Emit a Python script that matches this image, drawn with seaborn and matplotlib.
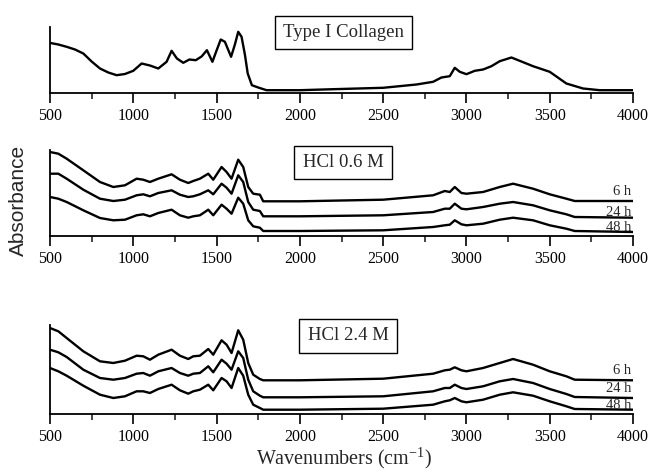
import matplotlib
matplotlib.use("Agg")
import matplotlib.pyplot as plt
from matplotlib.ticker import MultipleLocator
import seaborn as sns
import pandas as pd

# --- data (heights in arbitrary absorbance units) ---
wn_collagen = [500, 550, 600, 650, 700, 750, 800, 850, 900, 950, 1000, 1050, 1100, 1150,
               1200, 1230, 1262, 1300, 1337, 1375, 1410, 1442, 1475, 1500, 1525, 1550,
               1587, 1610, 1630, 1650, 1670, 1687, 1712, 1750, 1800, 1900, 2000, 2200,
               2500, 2700, 2800, 2850, 2900, 2930, 2960, 3000, 3050, 3100, 3150, 3200,
               3270, 3300, 3400, 3500, 3600, 3700, 3800, 4000]
abs_collagen = [49.6, 48, 45.7, 43, 39, 31, 24, 20, 17.3, 18.5, 21.7, 29, 27, 24,
                30.7, 41.7, 34, 29.7, 33, 32.3, 36, 42.3, 30.7, 42, 53, 50.7,
                35.7, 48, 60.7, 55.7, 38, 19, 7.3, 5, 2.3, 2.3, 2.3, 3.3,
                4.7, 8, 10.7, 15, 16.3, 24.7, 20.7, 18.3, 21.7, 23, 26.3, 31.3,
                35, 33, 26.3, 20.7, 9, 4, 2.3, 2.3]

wn_hcl = [500, 550, 600, 700, 800, 880, 950, 1020, 1060, 1100, 1150, 1230, 1280, 1330,
          1360, 1400, 1450, 1480, 1530, 1560, 1590, 1630, 1660, 1690, 1720, 1760, 1780,
          2000, 2500, 2800, 2870, 2900, 2930, 2970, 3000, 3100, 3200, 3280, 3400, 3500,
          3600, 3650, 4000]

hcl06_6h = [84, 82.3, 77.3, 65.7, 54, 49, 50.7, 57.3, 56.3, 54, 57.3, 61.7, 56.3, 53,
            55, 57.3, 62.3, 56.3, 69, 64, 57.3, 76.3, 69, 49, 42.3, 41.3, 34.7,
            34.7, 36.3, 40.7, 45, 44, 49, 43, 42.3, 44, 49, 52.3, 47.3, 41.7,
            37.3, 35, 35]
hcl06_24h = [62.3, 62.3, 57.3, 46.3, 37.3, 35, 36.3, 40.7, 41.7, 39.7, 43, 45.7, 41.3, 39,
             39.7, 41.7, 45.7, 41.7, 52.3, 48.3, 42.3, 60.7, 54, 34, 26.3, 25, 19.7,
             19.7, 20.7, 24, 27.3, 27.3, 32.3, 27.3, 26.7, 29, 32.3, 34, 30.7, 25.7,
             21.7, 19, 18.3]
hcl06_48h = [39, 37.3, 34, 25.7, 18, 15.7, 16.3, 20.7, 21.7, 19.7, 23, 26.3, 20.7, 18.3,
             19.7, 20.7, 26.3, 20.7, 31.3, 27.3, 22.3, 38.3, 32.3, 15.7, 9.7, 8.3, 5,
             5, 5.7, 9, 10.7, 11.3, 15.7, 11.7, 10.7, 12.3, 16.3, 18.3, 15.7, 10.7,
             7.3, 5, 4]

hcl24_6h = [86, 82.7, 76, 62.7, 52.7, 51, 53.3, 58.3, 57.7, 54.3, 59.3, 64.3, 58.3, 55,
            57.7, 58.3, 65, 59.3, 73.7, 69.3, 61, 83.7, 74.3, 51, 39.3, 35, 33.7,
            33.7, 35.3, 40.3, 43.7, 44.3, 46.7, 43.7, 42.7, 46, 51, 55, 49.3, 42.7,
            37.7, 34.3, 33.7]
hcl24_24h = [64.3, 61.7, 57, 44.3, 36, 34.3, 36, 40.3, 41, 38.3, 42.7, 46, 41, 38.3,
             40.3, 41, 47.7, 41.7, 54.3, 50.3, 44.3, 62.7, 56, 34.3, 22.7, 18.3, 16.7,
             16.7, 17.7, 22.7, 26, 26, 29.3, 26, 25, 27.7, 32.7, 35, 31, 25,
             20, 17, 16]
hcl24_48h = [46, 42.7, 38.3, 28.3, 19.3, 16, 17.7, 22.7, 22.7, 21, 25, 29.3, 23.7, 20.3,
             22.7, 24.3, 29.3, 23.7, 36, 32.7, 26, 46, 38.3, 19.3, 9.3, 6, 4.3,
             4.3, 5.3, 9.3, 12.7, 13.7, 16, 12.7, 11.7, 14.3, 19.3, 21.7, 18.3, 12.7,
             7.7, 5, 4.3]

time_labels = ["6 h", "24 h", "48 h"]
panel_titles = ["Type I Collagen", "HCl 0.6 M", "HCl 2.4 M"]

sns.set_style("ticks")
plt.rcParams['font.family'] = ['Liberation Serif', 'DejaVu Serif']
plt.rcParams['mathtext.fontset'] = 'custom'
plt.rcParams['mathtext.rm'] = 'Liberation Serif'

W, H = 654, 472
fig = plt.figure(figsize=(W / 100, H / 100), dpi=100)

# axes boxes in pixels: (baseline y, height)
boxes = [(92.5, 65.7), (236, 85.7), (414, 89.3)]
axes = []
for base, h in boxes:
    ax = fig.add_axes([50 / W, 1 - base / H, 583 / W, h / H])
    ax.set_xlim(500, 4000)
    ax.set_ylim(0, h)
    axes.append(ax)


def style_axis(ax):
    for s in ['top', 'right']:
        ax.spines[s].set_visible(False)
    for s in ['left', 'bottom']:
        ax.spines[s].set_linewidth(1.3)
        ax.spines[s].set_color('black')
    ax.set_yticks([])
    ax.xaxis.set_major_locator(MultipleLocator(500))
    ax.xaxis.set_minor_locator(MultipleLocator(250))
    ax.tick_params(axis='x', which='major', direction='out', length=7, width=1.2,
                   pad=4, labelsize=11.5, colors='black')
    ax.tick_params(axis='x', which='minor', direction='out', length=4, width=1.2)
    ax.set_xlabel('')
    ax.set_ylabel('')


# panel 1
sns.lineplot(x=wn_collagen, y=abs_collagen, ax=axes[0], color='black', lw=1.7,
             estimator=None, sort=False)

# panels 2 and 3
sets = [(axes[1], [hcl06_6h, hcl06_24h, hcl06_48h]),
        (axes[2], [hcl24_6h, hcl24_24h, hcl24_48h])]
label_offsets = {axes[1]: [7, 4, 3], axes[2]: [7, 7, 3]}
for ax, curves in sets:
    df = pd.DataFrame({'wn': wn_hcl * 3,
                       'abs': curves[0] + curves[1] + curves[2],
                       'time': sum([[t] * len(wn_hcl) for t in time_labels], [])})
    sns.lineplot(data=df, x='wn', y='abs', units='time', estimator=None, sort=False,
                 color='black', lw=1.7, ax=ax, legend=False)
    for lab, c, off in zip(time_labels, curves, label_offsets[ax]):
        ax.annotate(lab, xy=(wn_hcl[-1], c[-1]), xytext=(-1, off),
                    textcoords='offset points', ha='right', va='center',
                    fontsize=10.5, annotation_clip=False)

for ax in axes:
    style_axis(ax)

# boxed panel titles
title_pos = [(343.5, 32.5), (343, 162.5), (348, 336)]
for t, (px, py) in zip(panel_titles, title_pos):
    fig.text(px / W, 1 - py / H, t, ha='center', va='center', fontsize=13.5,
             bbox=dict(boxstyle='square,pad=0.45', fc='white', ec='black', lw=1.0))

fig.text(18 / W, 1 - 200 / H, 'Absorbance', rotation=90, ha='center', va='center',
         fontsize=15, family=['Liberation Sans', 'DejaVu Sans'])
fig.text(344 / W, 1 - 458 / H, r'Wavenumbers (cm$^{\mathregular{-1}}$)',
         ha='center', va='center', fontsize=14.5)

fig.savefig('out.png', dpi=100)
